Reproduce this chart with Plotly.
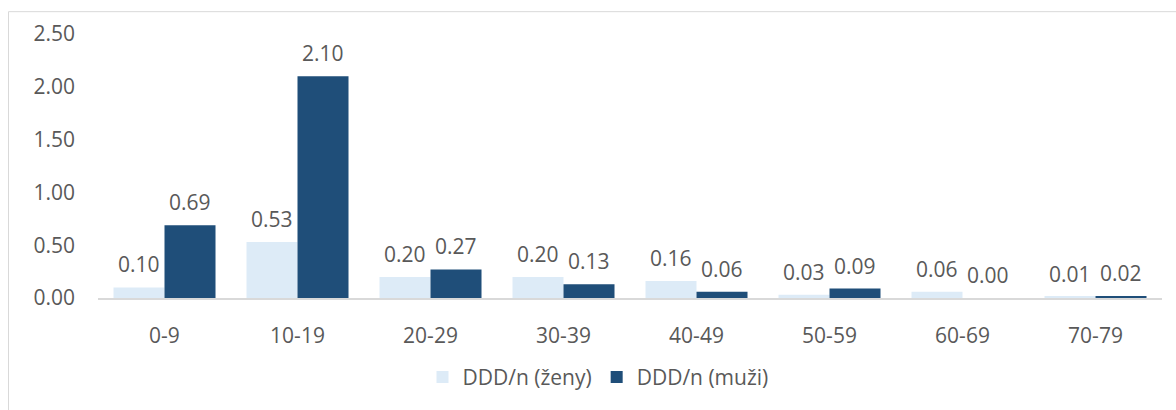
import plotly.graph_objects as go

# Age groups and DDD/n values by sex
age_groups = ["0-9", "10-19", "20-29", "30-39", "40-49", "50-59", "60-69", "70-79"]
zeny = [0.10, 0.53, 0.20, 0.20, 0.16, 0.03, 0.06, 0.01]
muzi = [0.69, 2.10, 0.27, 0.13, 0.06, 0.09, 0.00, 0.02]
y_ticks = [0.0, 0.5, 1.0, 1.5, 2.0, 2.5]

LIGHT = "#DDEBF7"
DARK = "#1F4E79"
TEXT = "#595959"
FONT = "Open Sans"
FS = 21

W, H = 1176, 410
L, R, T, B = 98, 14, 34, 110
pw, ph = W - L - R, H - T - B


def px_x(p):
    return (p - L) / pw


def px_y(p):
    return (H - B - p) / ph


fig = go.Figure()
fig.add_trace(go.Bar(name="DDD/n (ženy)", x=age_groups, y=zeny,
                     marker=dict(color=LIGHT, line=dict(width=0))))
fig.add_trace(go.Bar(name="DDD/n (muži)", x=age_groups, y=muzi,
                     marker=dict(color=DARK, line=dict(width=0))))

# value labels above each bar
half = pw / len(age_groups) * (1 - 0.233) / 4
for series, shift in ((zeny, -half), (muzi, half)):
    for cat, v in zip(age_groups, series):
        fig.add_annotation(x=cat, y=v, text=f"{v:.2f}", showarrow=False,
                           xshift=shift, yshift=7, yanchor="bottom",
                           font=dict(family=FONT, size=FS, color=TEXT))

# chart-area frame
fig.add_shape(type="rect", xref="paper", yref="paper",
              x0=px_x(8.5), x1=px_x(1185), y0=px_y(430), y1=px_y(11.5),
              line=dict(color="#D9D9D9", width=1), fillcolor="rgba(0,0,0,0)",
              layer="below")

fig.update_layout(
    width=W, height=H,
    margin=dict(l=L, r=R, t=T, b=B, pad=0),
    barmode="group", bargap=0.233, bargroupgap=0,
    plot_bgcolor="white", paper_bgcolor="white",
    font=dict(family=FONT, size=FS, color=TEXT),
    showlegend=True,
    legend=dict(orientation="h", x=px_x(598), xanchor="center",
                y=px_y(380), yanchor="middle",
                font=dict(family=FONT, size=FS, color=TEXT),
                itemwidth=30, traceorder="normal"),
    xaxis=dict(type="category", showgrid=False, zeroline=False,
               showline=True, linecolor="#D9D9D9", linewidth=1.5,
               ticks="", ticklabelstandoff=18,
               tickfont=dict(family=FONT, size=FS, color=TEXT)),
    yaxis=dict(range=[0, 2.5], tickvals=y_ticks,
               ticktext=[f"{t:.2f}" for t in y_ticks],
               showgrid=False, zeroline=False, showline=False,
               ticks="", ticklabelstandoff=22,
               tickfont=dict(family=FONT, size=FS, color=TEXT)),
)

fig.write_html("out.html")
